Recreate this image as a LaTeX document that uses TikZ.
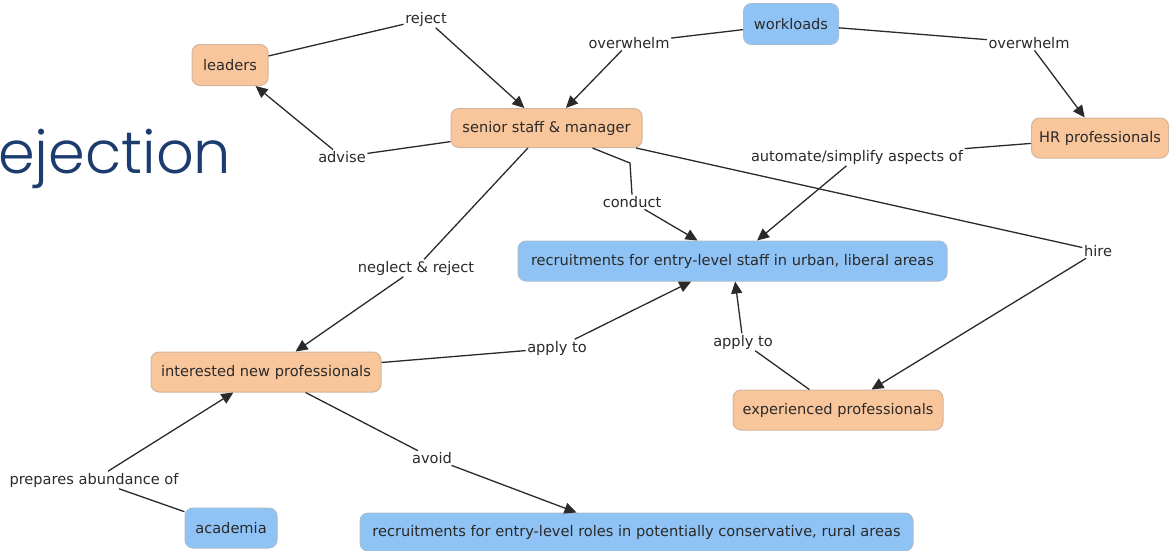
\documentclass[tikz,border=0pt]{standalone}
\usepackage{fontspec}
\setmainfont{DejaVu Sans}
\newfontfamily\titlefont{Poppins}[UprightFont=* Light]
\usetikzlibrary{arrows.meta}
\definecolor{orangefill}{HTML}{F9C59B}
\definecolor{orangeline}{HTML}{D2B59C}
\definecolor{bluefill}{HTML}{8FC2F5}
\definecolor{blueline}{HTML}{A7BCD2}
\definecolor{inkgray}{HTML}{2A2A2A}
\definecolor{titleblue}{HTML}{1C3B6E}
\tikzset{
  concept/.style={rounded corners=8pt, line width=1pt, inner sep=0pt,
    font=\fontsize{14.6}{16}\selectfont, text=inkgray},
  warm/.style={concept, fill=orangefill, draw=orangeline},
  cool/.style={concept, fill=bluefill, draw=blueline},
  linkword/.style={fill=white, inner sep=1.5pt, text=inkgray,
    font=\fontsize{14.6}{16}\selectfont},
  link/.style={draw=inkgray, line width=1.3pt},
  arc/.style={link, -{Triangle[length=12pt,width=11pt]}}
}
\begin{document}
\begin{tikzpicture}[x=1pt,y=-1pt]
\path[use as bounding box] (0,0) rectangle (1169,550);

% heading fragment on the left
\node[anchor=base west, inner sep=0pt, text=titleblue,
  font=\titlefont\fontsize{59}{61}\selectfont] (heading) at (-2,173) {ejection};

% concepts
\node[warm, minimum width=76pt,  minimum height=41pt] (leaders)  at (230,65)    {leaders};
\node[cool, minimum width=95pt,  minimum height=41pt] (workloads) at (791,24)   {workloads};
\node[warm, minimum width=191pt, minimum height=39pt] (senior)   at (546.5,128) {senior staff \& manager};
\node[warm, minimum width=137pt, minimum height=40pt] (hr)       at (1100,138)  {HR professionals};
\node[cool, minimum width=429pt, minimum height=40pt] (urban)    at (732.5,261) {recruitments for entry-level staff in urban, liberal areas};
\node[warm, minimum width=230pt, minimum height=40pt] (newpro)   at (266,372)   {interested new professionals};
\node[warm, minimum width=210pt, minimum height=40pt] (exppro)   at (838,410)   {experienced professionals};
\node[cool, minimum width=92pt,  minimum height=40pt] (academia) at (231,528)   {academia};
\node[cool, minimum width=553pt, minimum height=38pt] (rural)    at (636.5,532) {recruitments for entry-level roles in potentially conservative, rural areas};

% linking phrases
\node[linkword] (reject)   at (426,19)  {reject};
\node[linkword] (overL)    at (629,43)  {overwhelm};
\node[linkword] (overR)    at (1029,43) {overwhelm};
\node[linkword] (advise)   at (342,157) {advise};
\node[linkword] (automate) at (857,157) {automate/simplify aspects of};
\node[linkword] (conduct)  at (632,202) {conduct};
\node[linkword] (hire)     at (1098,251) {hire};
\node[linkword] (neglect)  at (416,268) {neglect \& reject};
\node[linkword] (applyL)   at (557,348) {apply to};
\node[linkword] (applyR)   at (743,342) {apply to};
\node[linkword] (avoid)    at (432,458) {avoid};
\node[linkword] (prepares) at (94,480)  {prepares abundance of};

% propositions
\draw[link] (leaders) -- (reject);
\draw[arc]  (reject) -- (senior);

\draw[link] (workloads) -- (overL);
\draw[arc]  (overL) -- (senior);

\draw[link] (workloads) -- (overR);
\draw[arc]  (overR) -- (hr);

\draw[link] (senior) -- (advise);
\draw[arc]  (advise) -- (leaders);

\draw[link] (hr) -- (automate);
\draw[arc]  (automate) -- (urban);

\coordinate (conductbend) at (630,163);
\draw[link] ([xshift=46pt]senior.south) -- (conductbend) -- (conduct.north);
\draw[arc]  (conduct) -- (urban);

\draw[link] (senior) -- (hire);
\draw[arc]  (hire) -- (exppro);

\draw[link] (senior) -- (neglect);
\draw[arc]  (neglect) -- (newpro);

\draw[link] (newpro) -- (applyL);
\draw[arc]  (applyL) -- (urban);

\draw[link] (exppro) -- (applyR);
\draw[arc]  (applyR) -- (urban);

\draw[link] (newpro) -- (avoid);
\draw[arc]  (avoid) -- ([xshift=-60pt]rural.north);

\draw[link] (academia) -- (prepares);
\draw[arc]  (prepares) -- (newpro);
\end{tikzpicture}
\end{document}
